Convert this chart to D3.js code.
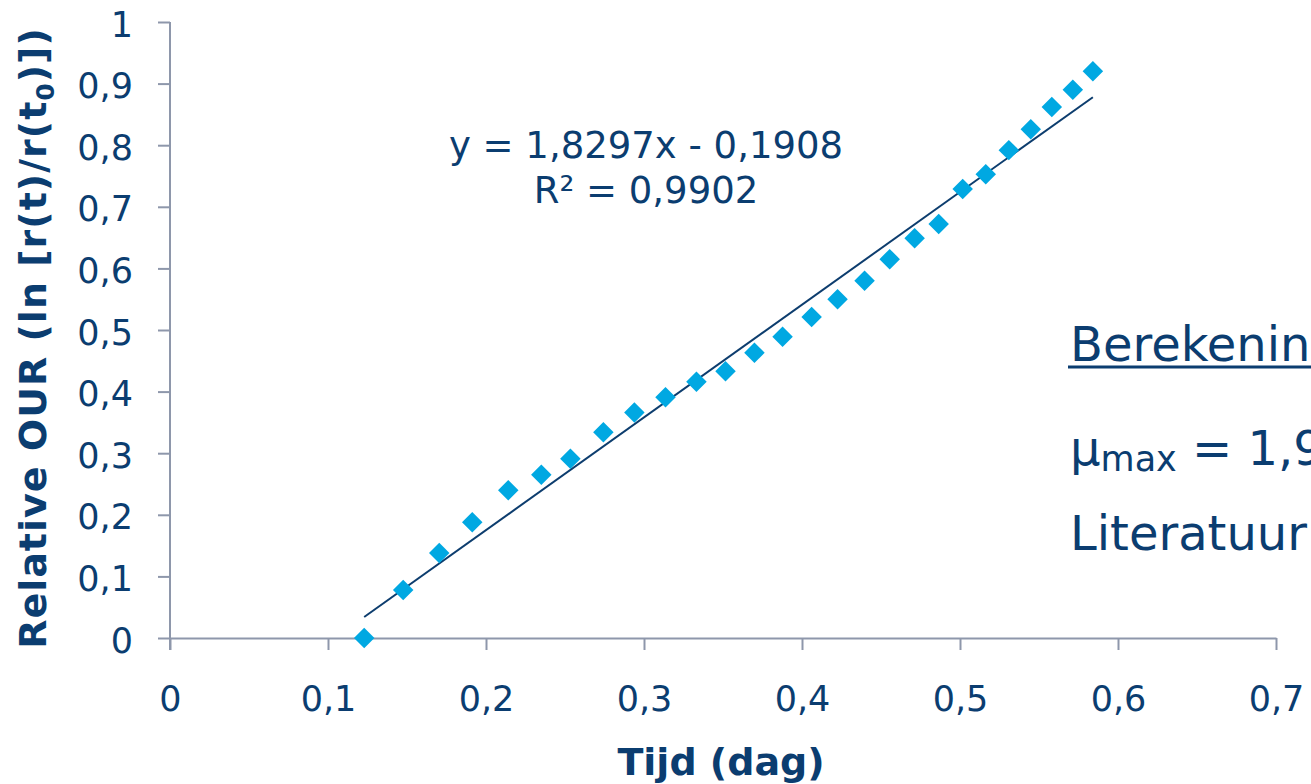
<!DOCTYPE html>
<html>
<head>
<meta charset="utf-8">
<script src="https://cdn.jsdelivr.net/npm/d3@7"></script>
<style>
  html, body { margin: 0; padding: 0; background: #fff; overflow: hidden; }
  text { font-family: "DejaVu Sans", Verdana, sans-serif; fill: #0b3d70; }
</style>
</head>
<body>
<div id="chart"></div>
<script>
// meetpunten (tijd in dag, relatieve OUR)
var tijd = [0.1229, 0.1476, 0.1704, 0.1913, 0.2141, 0.2350, 0.2534, 0.2743, 0.2939,
            0.3136, 0.3332, 0.3516, 0.3699, 0.3877, 0.4061, 0.4225, 0.4396, 0.4555,
            0.4713, 0.4865, 0.5017, 0.5163, 0.5309, 0.5448, 0.5581, 0.5714, 0.5841];
var our = [0.000, 0.078, 0.138, 0.188, 0.240, 0.265, 0.291, 0.334, 0.366,
           0.391, 0.416, 0.433, 0.463, 0.489, 0.521, 0.550, 0.580, 0.615,
           0.649, 0.672, 0.729, 0.753, 0.792, 0.826, 0.862, 0.890, 0.920];

// trendlijn
var slope = 1.8297;
var intercept = -0.1908;
var r2 = 0.9902;

var xTicks = [0, 0.1, 0.2, 0.3, 0.4, 0.5, 0.6, 0.7];
var yTicks = [0, 0.1, 0.2, 0.3, 0.4, 0.5, 0.6, 0.7, 0.8, 0.9, 1];

var navy = "#0b3d70";
var blue = "#00a8e2";
var axisGrey = "#8e97ab";

var nl = d3.formatLocale({decimal: ",", thousands: ".", grouping: [3], currency: ["", ""]});
var fmtTick = nl.format("~g");
var fmt4 = nl.format(".4f");

var svg = d3.select("#chart").append("svg")
    .attr("width", 1311)
    .attr("height", 784);

var x = d3.scaleLinear().domain([0, 0.7]).range([170, 1276]);
var y = d3.scaleLinear().domain([0, 1]).range([638, 22]);

// assen
var xAxis = svg.append("g")
    .attr("transform", "translate(0,638)")
    .call(d3.axisBottom(x).tickValues(xTicks).tickFormat(fmtTick).tickSizeInner(12).tickSizeOuter(0).tickPadding(36));

var yAxis = svg.append("g")
    .attr("transform", "translate(170,0)")
    .call(d3.axisLeft(y).tickValues(yTicks).tickFormat(fmtTick).tickSizeInner(12).tickSizeOuter(0).tickPadding(25));

[xAxis, yAxis].forEach(function(g) {
    g.selectAll("path.domain").attr("stroke", axisGrey).attr("stroke-width", 2);
    g.selectAll(".tick line").attr("stroke", axisGrey).attr("stroke-width", 2);
    g.selectAll(".tick text")
        .attr("fill", navy)
        .style("font-family", "'DejaVu Sans', Verdana, sans-serif")
        .style("font-size", "35px");
});
yAxis.selectAll(".tick text").attr("dy", "0.4em");
yAxis.select("path.domain").attr("d", "M0,22V650");

// trendlijn
var xMin = d3.min(tijd), xMax = d3.max(tijd);
svg.append("line")
    .attr("x1", x(xMin)).attr("y1", y(slope * xMin + intercept))
    .attr("x2", x(xMax)).attr("y2", y(slope * xMax + intercept))
    .attr("stroke", "#0d3d6e")
    .attr("stroke-width", 2);

// punten
var data = tijd.map(function(t, i) { return {x: t, y: our[i]}; });
var diamond = d3.symbol().type(d3.symbolSquare).size(210);
svg.selectAll(".pt")
    .data(data)
    .enter().append("path")
    .attr("class", "pt")
    .attr("d", diamond)
    .attr("transform", function(d) { return "translate(" + x(d.x) + "," + y(d.y) + ") rotate(45)"; })
    .attr("fill", blue);

// vergelijking
svg.append("text")
    .attr("x", 646).attr("y", 158)
    .attr("text-anchor", "middle")
    .style("font-size", "37px")
    .text("y = " + fmt4(slope) + "x - " + fmt4(-intercept));
svg.append("text")
    .attr("x", 646).attr("y", 203)
    .attr("text-anchor", "middle")
    .style("font-size", "37px")
    .text("R² = " + fmt4(r2));

// astitels
svg.append("text")
    .attr("x", 721).attr("y", 775)
    .attr("text-anchor", "middle")
    .style("font-size", "38px")
    .style("font-weight", "bold")
    .text("Tijd (dag)");

var yt = svg.append("text")
    .attr("transform", "translate(46,338) rotate(-90)")
    .attr("text-anchor", "middle")
    .style("font-size", "38px")
    .style("font-weight", "bold")
    .style("letter-spacing", "1px");
yt.append("tspan").text("Relative OUR (ln [r(t)/r(t");
yt.append("tspan").attr("dy", 8).style("font-size", "25px").text("0");
yt.append("tspan").attr("dy", -8).text(")])");

// tekst rechts
var tx = svg.append("g");
tx.append("text")
    .attr("x", 1070).attr("y", 361)
    .style("font-size", "48px")
    .text("Berekening");
tx.append("line")
    .attr("x1", 1068).attr("x2", 1311)
    .attr("y1", 367).attr("y2", 367)
    .attr("stroke", navy).attr("stroke-width", 3);
var mu = tx.append("text")
    .attr("x", 1070).attr("y", 465)
    .style("font-size", "48px");
mu.append("tspan").text("μ");
mu.append("tspan").attr("dy", 6).style("font-size", "35px").text("max");
mu.append("tspan").attr("dy", -6).text(" = 1,9");
tx.append("text")
    .attr("x", 1070).attr("y", 550)
    .style("font-size", "48px")
    .text("Literatuur");
</script>
</body>
</html>
